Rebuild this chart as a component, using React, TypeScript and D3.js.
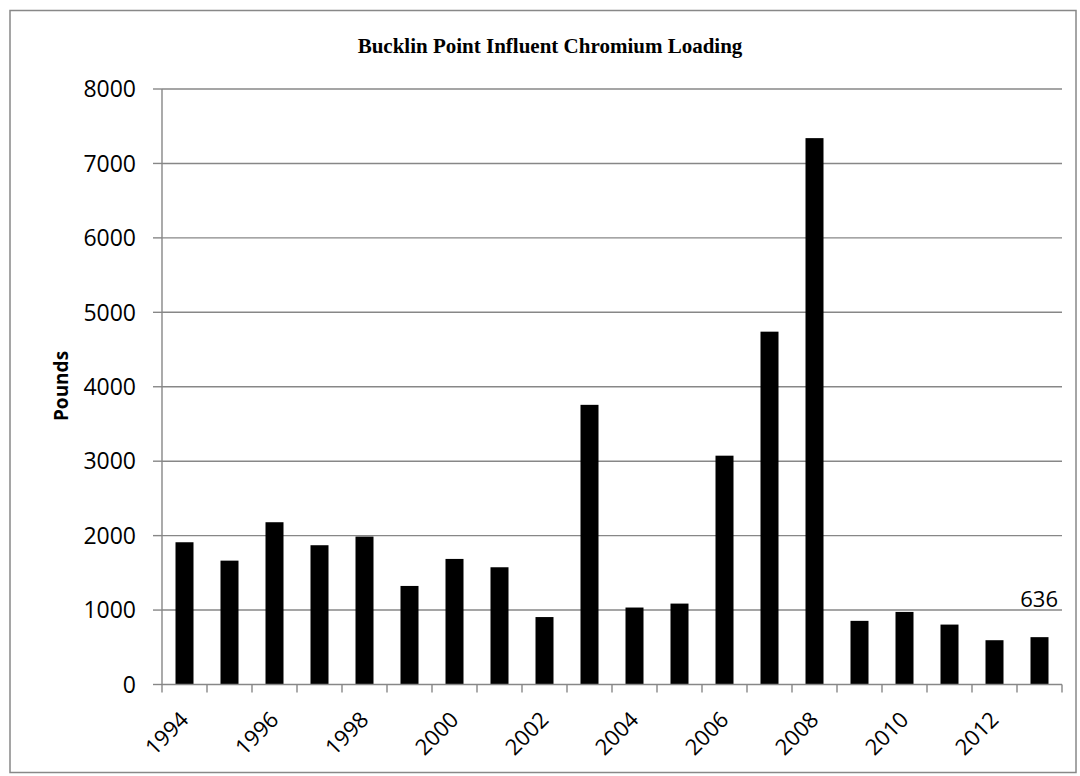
import React from "react";
import * as d3 from "d3";

const years = [1994,1995,1996,1997,1998,1999,2000,2001,2002,2003,2004,2005,2006,2007,2008,2009,2010,2011,2012,2013];
const pounds = [1911,1664,2180,1871,1987,1324,1687,1575,906,3757,1034,1087,3074,4740,7340,855,975,805,595,636];
const yTicks = [0,1000,2000,3000,4000,5000,6000,7000,8000];
const labelYears = [1994,1996,1998,2000,2002,2004,2006,2008,2010,2012];
const title = "Bucklin Point Influent Chromium Loading";
const yTitle = "Pounds";
const dataLabelIndex = 19;

export default function App() {
  const W = 1080, H = 776;
  const left = 162, right = 1062, top = 89, bottom = 684.5;
  const x = d3.scaleBand<number>().domain(years).range([left, right]).paddingInner(0.6).paddingOuter(0.3);
  const xb = d3.scaleBand<number>().domain(years).range([left, right]);
  const y = d3.scaleLinear().domain([0, 8000]).range([bottom, top]);
  const sans = "'Open Sans', 'Noto Sans', sans-serif";
  const grid = "#878787";
  return (
    <svg width={W} height={H} style={{ position: "absolute", left: 0, top: 0 }}>
      <rect x={0} y={0} width={W} height={H} fill="#fff" />
      <rect x={10} y={10.5} width={1066} height={762} fill="#fff" stroke="#888" strokeWidth={1.5} />
      <text x={550} y={53} textAnchor="middle" fontFamily="'Liberation Serif', 'Times New Roman', serif" fontWeight="bold" fontSize={21}>{title}</text>
      {yTicks.map(t => (
        <g key={t}>
          {t > 0 && <line x1={left} x2={right} y1={y(t)} y2={y(t)} stroke={grid} strokeWidth={1.4} />}
          <line x1={153} x2={left} y1={y(t)} y2={y(t)} stroke={grid} strokeWidth={1.4} />
          <text x={136} y={y(t)} dy="0.36em" textAnchor="end" fontFamily={sans} fontSize={23} fill="#000">{t}</text>
        </g>
      ))}
      {years.map((yr, i) => (
        <rect key={yr} x={x(yr)!} y={y(pounds[i])} width={x.bandwidth()} height={bottom - y(pounds[i])} fill="#000" />
      ))}
      <line x1={left} x2={left} y1={top} y2={bottom} stroke={grid} strokeWidth={1.4} />
      <line x1={left} x2={right} y1={bottom} y2={bottom} stroke={grid} strokeWidth={1.4} />
      {years.concat([2014]).map((yr, i) => (
        <line key={"t" + yr} x1={left + i * xb.bandwidth()} x2={left + i * xb.bandwidth()} y1={bottom} y2={bottom + 8} stroke={grid} strokeWidth={1.4} />
      ))}
      {labelYears.map(yr => {
        const cx = xb(yr)! + xb.bandwidth() / 2;
        return (
          <text key={"l" + yr} transform={`translate(${cx + 5.5},${bottom + 36.5}) rotate(-45)`} textAnchor="end" fontFamily={sans} fontSize={22} fill="#000">{yr}</text>
        );
      })}
      <text x={1058} y={y(pounds[dataLabelIndex]) - 30} textAnchor="end" fontFamily={sans} fontSize={22} fill="#000">{pounds[dataLabelIndex]}</text>
      <text transform={`translate(68,386) rotate(-90)`} textAnchor="middle" fontFamily={sans} fontWeight="bold" fontSize={19} fill="#000">{yTitle}</text>
    </svg>
  );
}
